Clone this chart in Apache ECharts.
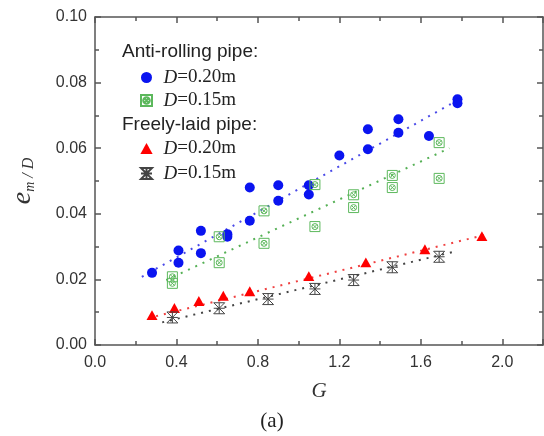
<!DOCTYPE html>
<html>
<head>
<meta charset="utf-8">
<script src="https://cdn.jsdelivr.net/npm/echarts@6/dist/echarts.min.js"></script>
<style>
  html, body { margin: 0; padding: 0; background: #fff; }
  #chart { width: 544px; height: 436px; }
</style>
</head>
<body>
<div id="chart"></div>
<script>
// measured points [G, em/D]
const antiD20 = [
  [0.28, 0.0220], [0.41, 0.0288], [0.41, 0.0251], [0.52, 0.0348], [0.52, 0.0280],
  [0.65, 0.0338], [0.65, 0.0330], [0.76, 0.0379], [0.76, 0.0480], [0.90, 0.0487],
  [0.90, 0.0440], [1.05, 0.0487], [1.05, 0.0459], [1.20, 0.0578], [1.34, 0.0658],
  [1.34, 0.0597], [1.49, 0.0688], [1.49, 0.0647], [1.64, 0.0637], [1.78, 0.0749],
  [1.78, 0.0737]
];
const antiD15 = [
  [0.38, 0.0208], [0.38, 0.0188], [0.61, 0.0330], [0.61, 0.0251], [0.83, 0.0409],
  [0.83, 0.0310], [1.08, 0.0489], [1.08, 0.0361], [1.27, 0.0458], [1.27, 0.0419],
  [1.46, 0.0517], [1.46, 0.0480], [1.69, 0.0617], [1.69, 0.0508]
];
const freeD20 = [
  [0.28, 0.0091], [0.39, 0.0113], [0.51, 0.0134], [0.63, 0.0150], [0.76, 0.0164],
  [1.05, 0.0210], [1.33, 0.0252], [1.62, 0.0292], [1.90, 0.0332]
];
const freeD15 = [
  [0.38, 0.0084], [0.61, 0.0112], [0.85, 0.0140], [1.08, 0.0171], [1.27, 0.0198],
  [1.46, 0.0237], [1.69, 0.0269]
];

// dotted fit lines, end points
const fitAnti20 = [[0.23, 0.0208], [1.80, 0.0753]];
const fitAnti15 = [[0.35, 0.0198], [1.74, 0.0600]];
const fitFree20 = [[0.30, 0.0088], [1.91, 0.0335]];
const fitFree15 = [[0.33, 0.0069], [1.76, 0.0284]];

const legendLabels = {
  anti20: "0.20m", anti15: "0.15m", free20: "0.20m", free15: "0.15m"
};

const serif = "Liberation Serif";
const sans = "Liberation Sans";

const boxSym = "path://M0,0H10V10H0Z M5,2A3,3 0 1 0 5.01,2Z M2.9,2.9L7.1,7.1 M7.1,2.9L2.9,7.1";
const starSym = "path://M0,0H10L0,10H10Z M5,0V10 M0,5H10";
const triSym = "path://M5,0L10,9H0Z";

const chart = echarts.init(document.getElementById("chart"));

const dotted = (data, color) => ({
  type: "line",
  data: data,
  showSymbol: false,
  silent: true,
  z: 1,
  lineStyle: { color: color, width: 2, type: [2, 6] }
});

const axisBits = {
  axisLine: { show: true, onZero: false, lineStyle: { color: "#555", width: 1.5 } },
  axisTick: { show: true, inside: true, length: 6, lineStyle: { color: "#555", width: 1.5 } },
  minorTick: { show: true, splitNumber: 2, length: 4, lineStyle: { color: "#555", width: 1.5 } },
  splitLine: { show: false }
};

const legendText = {
  rich: {
    i: { fontFamily: serif, fontStyle: "italic", fontSize: 19, color: "#222" },
    t: { fontFamily: serif, fontSize: 19, color: "#222" }
  }
};

const option = {
  animation: false,
  grid: { left: 95, right: 1, top: 17, bottom: 91 },
  xAxis: [
    Object.assign({
      type: "value", min: 0, max: 2.2, interval: 0.4,
      name: "G", nameLocation: "middle", nameGap: 36,
      nameTextStyle: { fontFamily: serif, fontStyle: "italic", fontSize: 21, color: "#333" },
      axisLabel: {
        showMaxLabel: false, margin: 10, fontFamily: sans, fontSize: 16, color: "#333",
        formatter: v => v.toFixed(1)
      }
    }, axisBits),
    Object.assign({
      type: "value", position: "top", min: 0, max: 2.2, interval: 0.4,
      axisLabel: { show: false }
    }, axisBits)
  ],
  yAxis: [
    Object.assign({
      type: "value", min: 0, max: 0.1, interval: 0.02,
      name: "{e|e}{m|m}{d| / D}", nameLocation: "middle", nameGap: 58, nameRotate: 90,
      nameTextStyle: {
        color: "#333",
        rich: {
          e: { fontFamily: serif, fontStyle: "italic", fontSize: 28, color: "#333" },
          m: { fontFamily: serif, fontStyle: "italic", fontSize: 14, color: "#333", verticalAlign: "bottom", padding: [10, 0, 0, 0] },
          d: { fontFamily: serif, fontStyle: "italic", fontSize: 16, color: "#333", verticalAlign: "bottom", padding: [4, 0, 0, 0] }
        }
      },
      axisLabel: { margin: 8, fontFamily: sans, fontSize: 16, color: "#333", formatter: v => v.toFixed(2) }
    }, axisBits),
    Object.assign({
      type: "value", position: "right", min: 0, max: 0.1, interval: 0.02,
      axisLabel: { show: false }
    }, axisBits)
  ],
  legend: [
    {
      data: ["anti20", "anti15"], orient: "vertical", left: 135, top: 63,
      itemWidth: 24, itemHeight: 11, itemGap: 4,
      formatter: n => "{i|D}{t|=" + legendLabels[n] + "}",
      textStyle: legendText
    },
    {
      data: ["free20", "free15"], orient: "vertical", left: 135, top: 134,
      itemWidth: 24, itemHeight: 11, itemGap: 6,
      formatter: n => "{i|D}{t|=" + legendLabels[n] + "}",
      textStyle: legendText
    }
  ],
  graphic: [
    { type: "text", left: 122, top: 42, style: { text: "Anti-rolling pipe:", font: "19px " + sans, fill: "#222" } },
    { type: "text", left: 122, top: 115, style: { text: "Freely-laid pipe:", font: "19px " + sans, fill: "#222" } },
    { type: "text", left: "center", top: 411, style: { text: "(a)", font: "21px " + serif, fill: "#222" } }
  ],
  series: [
    dotted(fitAnti20, "#4a4ae8"),
    dotted(fitAnti15, "#55b055"),
    dotted(fitFree20, "#f04040"),
    dotted(fitFree15, "#444"),
    {
      name: "anti20", type: "scatter", data: antiD20, symbol: "circle", symbolSize: 10, z: 3,
      itemStyle: { color: "#0a14f0", opacity: 1 }
    },
    {
      name: "anti15", type: "scatter", data: antiD15, symbol: boxSym, symbolSize: 10, z: 3,
      itemStyle: { color: "rgba(0,0,0,0)", borderColor: "#5cb85c", borderWidth: 1, opacity: 1 }
    },
    {
      name: "free20", type: "scatter", data: freeD20, symbol: triSym, symbolSize: 11,
      symbolKeepAspect: true, z: 3,
      itemStyle: { color: "#ff0000", opacity: 1 }
    },
    {
      name: "free15", type: "scatter", data: freeD15, symbol: starSym, symbolSize: 11, z: 3,
      itemStyle: { color: "rgba(0,0,0,0)", borderColor: "#444", borderWidth: 1, opacity: 1 }
    }
  ]
};

chart.setOption(option);
window.addEventListener("resize", () => chart.resize());
</script>
</body>
</html>
